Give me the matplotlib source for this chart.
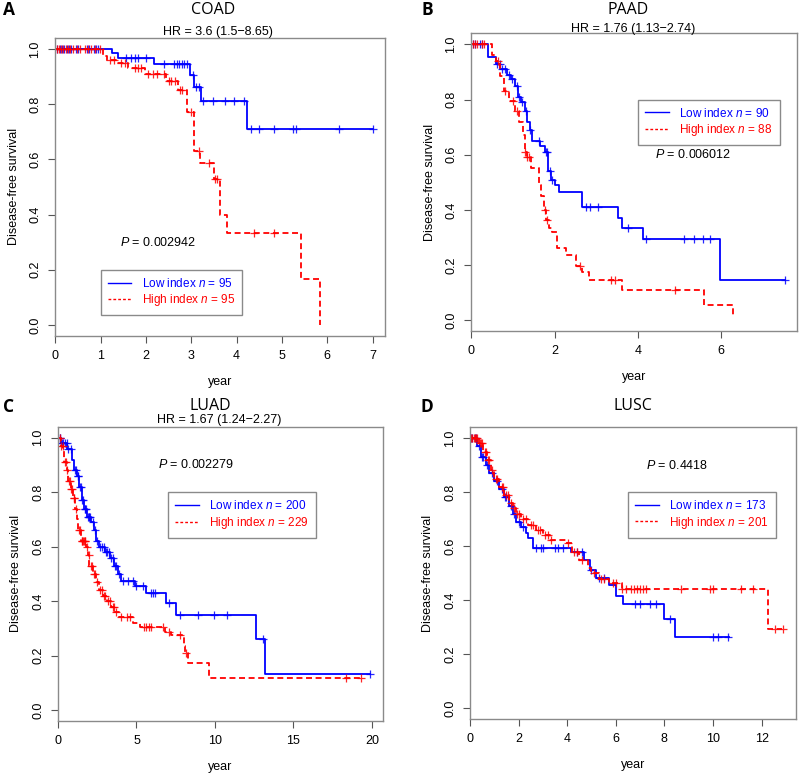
import numpy as np
import matplotlib
matplotlib.use("Agg")
import matplotlib.pyplot as plt
from matplotlib.lines import Line2D

plt.rcParams['font.family'] = ['Liberation Sans', 'DejaVu Sans']
plt.rcParams['mathtext.fontset'] = 'custom'
plt.rcParams['mathtext.rm'] = 'Liberation Sans'
plt.rcParams['mathtext.it'] = 'Liberation Sans:italic'

BLUE = '#0000ff'
RED = '#ff0000'

# ---- panel A: COAD ----
coad_low_t = [0, 1.25, 1.38, 2.17, 2.98, 3.07, 3.22, 4.24, 7.0]
coad_low_s = [1.0, 0.985, 0.967, 0.945, 0.905, 0.862, 0.812, 0.71, 0.71]
coad_low_cens = [0.05, 0.1, 0.15, 0.2, 0.25, 0.3, 0.35, 0.45, 0.5, 0.7, 0.75, 0.85, 0.9, 0.95,
                 1.57, 1.68, 1.75, 1.83, 2.01, 2.41, 2.63, 2.68, 2.74, 2.8, 2.85, 2.91,
                 3.05, 3.1, 3.18, 3.27, 3.48, 3.74, 3.94, 4.17, 4.32, 4.49, 4.83, 5.25, 5.31, 6.27, 7.0]
coad_high_t = [0, 1.06, 1.15, 1.35, 1.6, 1.98, 2.45, 2.7, 2.9, 3.07, 3.2, 3.5, 3.64, 3.79, 5.42, 5.84]
coad_high_s = [1.0, 0.975, 0.96, 0.948, 0.93, 0.91, 0.883, 0.852, 0.77, 0.63, 0.585, 0.53, 0.40, 0.333, 0.167, 0.0]
coad_high_cens = [0.03, 0.08, 0.13, 0.18, 0.23, 0.28, 0.33, 0.4, 0.48, 0.55, 0.65, 0.72, 0.8, 0.88, 0.98,
                  1.2, 1.3, 1.45, 1.55, 1.75, 1.82, 1.9, 2.05, 2.15, 2.25, 2.4, 2.5, 2.55, 2.65,
                  2.75, 2.8, 3.0, 3.18, 3.4, 3.52, 3.58, 4.39, 4.83]

# ---- panel B: PAAD ----
paad_low_t = [0, 0.4, 0.6, 0.7, 0.85, 0.95, 1.05, 1.12, 1.2, 1.3, 1.35, 1.4, 1.45, 1.65, 1.78,
              1.85, 1.92, 2.0, 2.1, 2.66, 3.52, 3.62, 4.12, 5.98, 7.52]
paad_low_s = [1.0, 0.955, 0.93, 0.91, 0.89, 0.875, 0.85, 0.81, 0.79, 0.76, 0.72, 0.69, 0.65, 0.63, 0.61,
              0.54, 0.51, 0.49, 0.465, 0.41, 0.37, 0.335, 0.293, 0.146, 0.146]
paad_low_cens = [0.05, 0.1, 0.2, 0.25, 0.62, 0.68, 0.75, 0.8, 0.9, 0.98, 1.1, 1.15, 1.22, 1.32, 1.42,
                 1.62, 1.8, 1.82, 1.88, 1.95, 2.75, 2.85, 3.05, 3.75, 4.2, 5.1, 5.35, 5.55, 5.72, 7.52]
paad_high_t = [0, 0.5, 0.6, 0.7, 0.78, 0.9, 1.05, 1.15, 1.25, 1.3, 1.35, 1.43, 1.62, 1.68, 1.75, 1.8,
               1.87, 1.95, 2.05, 2.28, 2.52, 2.65, 2.82, 3.62, 5.58, 6.28]
paad_high_s = [1.0, 0.96, 0.94, 0.885, 0.83, 0.795, 0.76, 0.72, 0.67, 0.61, 0.59, 0.55, 0.49, 0.45, 0.40,
               0.365, 0.335, 0.32, 0.26, 0.237, 0.198, 0.175, 0.146, 0.108, 0.055, 0.02]
paad_high_cens = [0.05, 0.1, 0.15, 0.25, 0.3, 0.65, 0.8, 1.0, 1.1, 1.3, 1.35, 1.38, 1.78, 1.82,
                  2.6, 3.35, 3.45, 4.9]

# ---- panel C: LUAD ----
luad_low_t = [0, 0.2, 0.6, 0.9, 1.0, 1.2, 1.35, 1.5, 1.65, 1.85, 2.1, 2.3, 2.45, 2.6, 3.0, 3.3, 3.55,
              3.8, 4.0, 4.9, 5.6, 6.9, 7.5, 12.6, 13.2, 19.9]
luad_low_s = [1.0, 0.98, 0.96, 0.92, 0.88, 0.86, 0.82, 0.77, 0.74, 0.71, 0.69, 0.66, 0.62, 0.60, 0.58,
              0.56, 0.53, 0.50, 0.475, 0.455, 0.43, 0.395, 0.35, 0.262, 0.133, 0.133]
luad_low_cens = [0.1, 0.15, 0.25, 0.35, 0.45, 0.55, 0.65, 0.8, 1.1, 1.15, 1.25, 1.3, 1.4, 1.45, 1.55,
                 1.6, 1.7, 1.75, 1.8, 1.9, 1.95, 2.0, 2.05, 2.2, 2.35, 2.5, 2.7, 2.8, 2.9, 3.05, 3.15,
                 3.25, 3.4, 3.5, 3.65, 3.7, 3.9, 4.15, 4.47, 4.79, 5.0, 5.4, 5.95, 6.05, 6.15, 7.1,
                 7.75, 8.94, 9.93, 10.78, 13.05, 19.9]
luad_high_t = [0, 0.2, 0.35, 0.4, 0.55, 0.65, 0.8, 0.95, 1.1, 1.2, 1.3, 1.45, 1.8, 1.9, 2.0, 2.2, 2.4,
               2.6, 2.85, 3.1, 3.4, 3.6, 3.9, 4.8, 5.2, 6.8, 7.2, 8.0, 8.1, 8.3, 9.65, 19.3]
luad_high_s = [1.0, 0.97, 0.95, 0.91, 0.88, 0.84, 0.81, 0.78, 0.74, 0.70, 0.66, 0.62, 0.60, 0.57, 0.53,
               0.50, 0.47, 0.44, 0.42, 0.40, 0.38, 0.36, 0.342, 0.32, 0.304, 0.286, 0.275, 0.237,
               0.21, 0.173, 0.116, 0.116]
luad_high_cens = [0.1, 0.2, 0.3, 0.45, 0.5, 0.6, 0.7, 0.75, 0.85, 0.9, 1.0, 1.05, 1.15, 1.35, 1.4, 1.5,
                  1.55, 1.6, 1.65, 1.7, 1.75, 1.85, 1.95, 2.1, 2.15, 2.3, 2.35, 2.5, 2.7, 2.8, 2.95,
                  3.0, 3.2, 3.3, 3.5, 3.55, 3.7, 4.0, 4.4, 4.6, 5.5, 5.6, 5.8, 5.9, 6.7, 7.1, 7.75,
                  8.15, 18.35, 19.3]

# ---- panel D: LUSC ----
lusc_low_t = [0, 0.3, 0.45, 0.65, 0.8, 1.0, 1.2, 1.4, 1.6, 1.75, 1.9, 2.1, 2.3, 2.4, 2.6, 4.15, 4.7,
              4.95, 5.2, 5.7, 6.0, 6.3, 8.0, 8.45, 10.65]
lusc_low_s = [1.0, 0.97, 0.93, 0.90, 0.87, 0.84, 0.81, 0.78, 0.75, 0.72, 0.69, 0.67, 0.65, 0.63, 0.594,
              0.577, 0.55, 0.51, 0.483, 0.456, 0.417, 0.387, 0.33, 0.264, 0.264]
lusc_low_cens = [0.05, 0.1, 0.2, 0.25, 0.35, 0.5, 0.55, 0.7, 0.9, 1.1, 1.3, 1.45, 1.5, 1.7, 1.8, 2.0,
                 2.2, 2.72, 2.93, 3.0, 3.48, 3.61, 3.82, 4.4, 4.6, 5.0, 5.3, 5.5, 6.77, 6.98, 7.39,
                 7.66, 8.25, 10.0, 10.2, 10.6]
lusc_high_t = [0, 0.35, 0.55, 0.7, 0.85, 1.0, 1.2, 1.4, 1.6, 1.75, 1.9, 2.1, 2.4, 2.7, 3.0, 3.3, 4.0,
               4.2, 4.5, 4.85, 5.0, 5.3, 5.7, 6.25, 12.25, 12.85]
lusc_high_s = [1.0, 0.98, 0.95, 0.92, 0.88, 0.85, 0.82, 0.79, 0.76, 0.74, 0.72, 0.70, 0.68, 0.66, 0.64,
               0.622, 0.61, 0.58, 0.55, 0.52, 0.50, 0.48, 0.465, 0.44, 0.295, 0.295]
lusc_high_cens = [0.05, 0.1, 0.15, 0.2, 0.25, 0.3, 0.4, 0.45, 0.5, 0.6, 0.65, 0.75, 0.8, 0.9, 1.05, 1.1,
                  1.3, 1.35, 1.5, 1.55, 1.7, 1.8, 1.95, 2.0, 2.2, 2.3, 2.5, 2.6, 2.8, 2.9, 3.1, 3.2,
                  3.35, 4.05, 4.3, 4.4, 4.6, 5.1, 5.4, 5.5, 5.9, 6.0, 6.27, 6.43, 6.63, 6.74, 6.87,
                  6.98, 7.11, 7.25, 8.7, 9.86, 10.0, 11.17, 11.65, 12.54, 12.88]

# text baselines are given in pixels from the top of the figure
panels = [
    dict(letter='A', name='COAD', hr='HR = 3.6 (1.5\u22128.65)', p='0.002942',
         n_low=95, n_high=95, xmax=7.0, xticks=[0, 1, 2, 3, 4, 5, 6, 7],
         low=(coad_low_t, coad_low_s, coad_low_cens), high=(coad_high_t, coad_high_s, coad_high_cens),
         leg=(1.0, 0.2), ptxt=(1.44, 0.30),
         rect=[0.069, 0.566, 0.4125, 0.385], title=(213, 14), hrpos=(218, 35), lab=(9, 15)),
    dict(letter='B', name='PAAD', hr='HR = 1.76 (1.13\u22122.74)', p='0.006012',
         n_low=90, n_high=88, xmax=7.52, xticks=[0, 2, 4, 6],
         low=(paad_low_t, paad_low_s, paad_low_cens), high=(paad_high_t, paad_high_s, paad_high_cens),
         leg=(4.0, 0.8), ptxt=(4.4, 0.6),
         rect=[0.589, 0.572, 0.4075, 0.385], title=(628, 14), hrpos=(633, 32), lab=(427, 15)),
    dict(letter='C', name='LUAD', hr='HR = 1.67 (1.24\u22122.27)', p='0.002279',
         n_low=200, n_high=229, xmax=19.9, xticks=[0, 5, 10, 15, 20],
         low=(luad_low_t, luad_low_s, luad_low_cens), high=(luad_high_t, luad_high_s, luad_high_cens),
         leg=(7.0, 0.8), ptxt=(6.4, 0.9),
         rect=[0.0725, 0.0685, 0.406, 0.380], title=(210, 410), hrpos=(219, 423), lab=(9, 412)),
    dict(letter='D', name='LUSC', hr=None, p='0.4418',
         n_low=173, n_high=201, xmax=12.9, xticks=[0, 2, 4, 6, 8, 10, 12],
         low=(lusc_low_t, lusc_low_s, lusc_low_cens), high=(lusc_high_t, lusc_high_s, lusc_high_cens),
         leg=(6.5, 0.8), ptxt=(7.26, 0.9),
         rect=[0.5875, 0.071, 0.4075, 0.377], title=(633, 410), hrpos=None, lab=(427, 412)),
]

W, H = 800, 774


def step_value(t, s, c):
    t = np.asarray(t)
    s = np.asarray(s)
    idx = np.searchsorted(t, c, side='right') - 1
    return s[np.clip(idx, 0, len(s) - 1)]


fig = plt.figure(figsize=(8.0, 7.74), dpi=100)

for pn in panels:
    ax = fig.add_axes(pn['rect'])
    for (t, s, cens), col, ls in [(pn['low'], BLUE, '-'), (pn['high'], RED, '--')]:
        line, = ax.step(t, s, where='post', color=col, lw=1.3, linestyle=ls)
        if ls == '--':
            line.set_dashes((3.3, 2.0))
        cens = np.asarray(cens)
        ax.plot(cens, step_value(t, s, cens), '+', color=col, ms=6, mew=0.9, alpha=0.85)

    ax.set_xlim(0, pn['xmax'] * 1.04)
    ax.set_ylim(-0.04, 1.04)
    ax.set_xticks(pn['xticks'])
    ax.set_yticks([0, 0.2, 0.4, 0.6, 0.8, 1.0])
    ax.set_yticklabels(['0.0', '0.2', '0.4', '0.6', '0.8', '1.0'])
    for lab in ax.get_yticklabels():
        lab.set_rotation(90)
        lab.set_va('center')
    ax.tick_params(direction='out', length=5, width=0.8, color='#555555', labelsize=9, pad=5)
    for sp in ax.spines.values():
        sp.set_color('#8a8a8a')
        sp.set_linewidth(1.0)
    ax.set_xlabel('year', fontsize=9, labelpad=10)
    ax.set_ylabel('Disease-free survival', fontsize=9, labelpad=7)

    handles = [Line2D([], [], color=BLUE, lw=1.0),
               Line2D([], [], color=RED, lw=1.0, dashes=(2, 1.5))]
    labels = ['Low index $\\it{n}$ = %d' % pn['n_low'], 'High index $\\it{n}$ = %d' % pn['n_high']]
    leg = ax.legend(handles, labels, loc='upper left', bbox_to_anchor=pn['leg'],
                    bbox_transform=ax.transData, borderaxespad=0, fontsize=8.5,
                    handlelength=2.0, handletextpad=0.9, labelspacing=0.2, borderpad=0.6,
                    fancybox=False, framealpha=1, edgecolor='#8a8a8a', labelcolor='linecolor')
    leg.get_frame().set_linewidth(1.0)

    ax.text(pn['ptxt'][0], pn['ptxt'][1], '$\\it{P}$ = ' + pn['p'], fontsize=9, va='center', ha='left')

    fig.text(pn['title'][0] / W, 1 - pn['title'][1] / H, pn['name'],
             fontsize=11.5, family='Open Sans', ha='center', va='baseline')
    if pn['hr']:
        fig.text(pn['hrpos'][0] / W, 1 - pn['hrpos'][1] / H, pn['hr'], fontsize=9,
                 ha='center', va='baseline')
    fig.text(pn['lab'][0] / W, 1 - pn['lab'][1] / H, pn['letter'], fontsize=12.5,
             family='Open Sans', weight='bold', ha='center', va='baseline')

fig.savefig('out.png', dpi=100, facecolor='white')
